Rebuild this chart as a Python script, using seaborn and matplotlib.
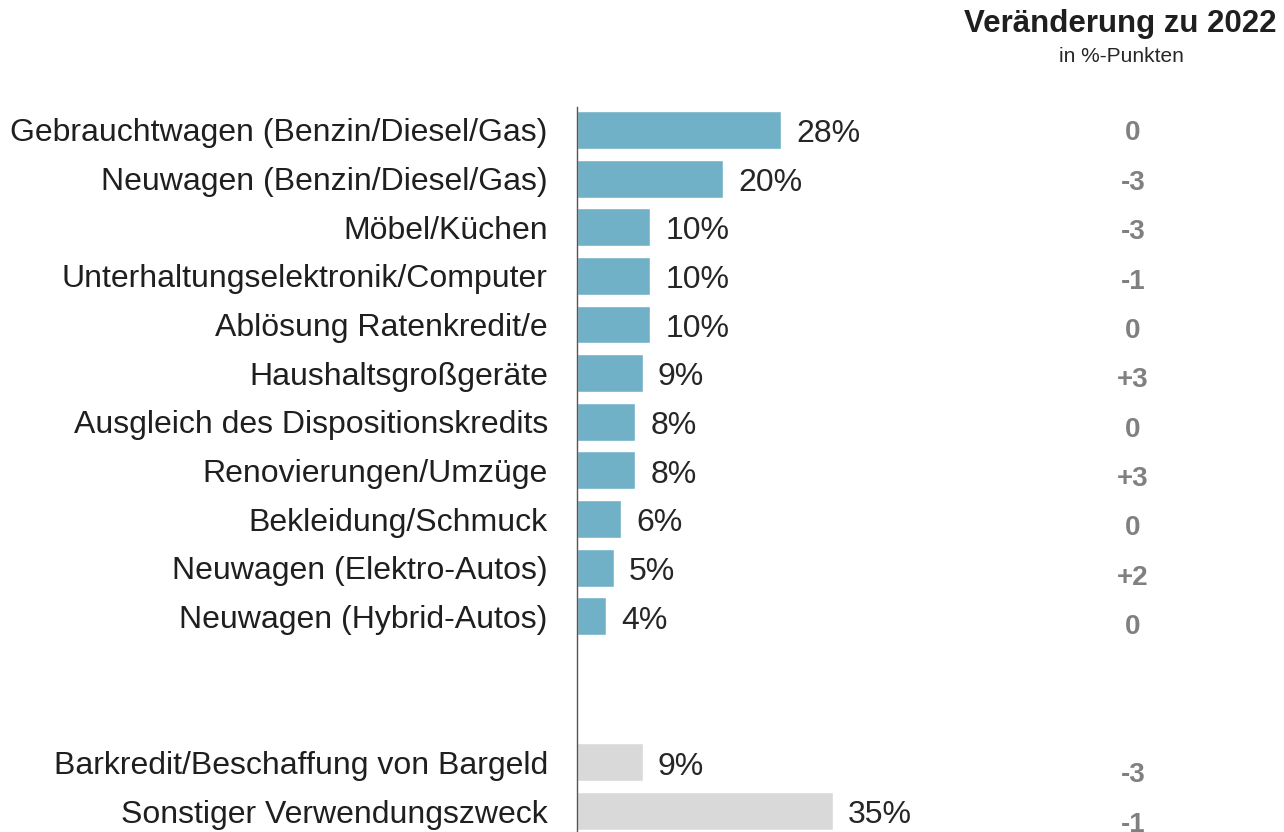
import matplotlib
matplotlib.use("Agg")
import matplotlib.pyplot as plt
import matplotlib.transforms as mtransforms
import seaborn as sns
import pandas as pd

categories = [
    "Gebrauchtwagen (Benzin/Diesel/Gas)",
    "Neuwagen (Benzin/Diesel/Gas)",
    "Möbel/Küchen",
    "Unterhaltungselektronik/Computer",
    "Ablösung Ratenkredit/e",
    "Haushaltsgroßgeräte",
    "Ausgleich des Dispositionskredits",
    "Renovierungen/Umzüge",
    "Bekleidung/Schmuck",
    "Neuwagen (Elektro-Autos)",
    "Neuwagen (Hybrid-Autos)",
    "Barkredit/Beschaffung von Bargeld",
    "Sonstiger Verwendungszweck",
]
values = [28, 20, 10, 10, 10, 9, 8, 8, 6, 5, 4, 9, 35]
changes = ["0", "-3", "-3", "-1", "0", "+3", "0", "+3", "0", "+2", "0", "-3", "-1"]
groups = ["main"] * 11 + ["other"] * 2
positions = list(range(11)) + [13, 14]

header_title = "Veränderung zu 2022"
header_sub = "in %-Punkten"

sns.set_style("white")
plt.rcParams["font.family"] = ["Liberation Sans", "DejaVu Sans"]

df = pd.DataFrame({"cat": categories, "val": values, "pos": positions, "grp": groups})

fig = plt.figure(figsize=(12.84, 8.32), dpi=100)
ax = fig.add_axes([577 / 1284, 0, (1284 - 577) / 1284, 1 - 107 / 832])

sns.barplot(data=df, x="val", y="pos", hue="grp", orient="h", native_scale=True,
            palette={"main": "#71B1C8", "other": "#D9D9D9"}, width=0.78,
            dodge=False, legend=False, ax=ax, saturation=1)

ax.set_xlim(0, 707 / 7.3)
ax.set_ylim(14.43, -0.47)
ax.set_yticks(positions)
ax.set_yticklabels(categories, fontsize=23, color="#1f1f1f")
ax.tick_params(axis="y", length=0, pad=21)
ax.set_xticks([])
ax.set_xlabel("")
ax.set_ylabel("")
for s in ["top", "right", "bottom"]:
    ax.spines[s].set_visible(False)
ax.spines["left"].set_color("#555555")
ax.spines["left"].set_linewidth(1.0)

for v, p in zip(values, positions):
    ax.annotate(f"{v}%", xy=(v, p), xytext=(11, -3), textcoords="offset points",
                ha="left", va="center", fontsize=23, color="#262626")

trans = mtransforms.blended_transform_factory(fig.transFigure, ax.transData)
for c, p in zip(changes, positions):
    ax.annotate(c, xy=(1133 / 1284, p * 1.015), xycoords=trans, xytext=(0, -2.5),
                textcoords="offset points", ha="center", va="center",
                fontsize=20, fontweight="bold", color="#808080")

fig.text(1276 / 1284, 1 - 24 / 832, header_title, ha="right", va="center",
         fontsize=22.5, fontweight="bold", color="#1f1f1f")
fig.text(1121 / 1284, 1 - 57 / 832, header_sub, ha="center", va="center",
         fontsize=15, color="#262626")

fig.savefig("out.png", dpi=100)
